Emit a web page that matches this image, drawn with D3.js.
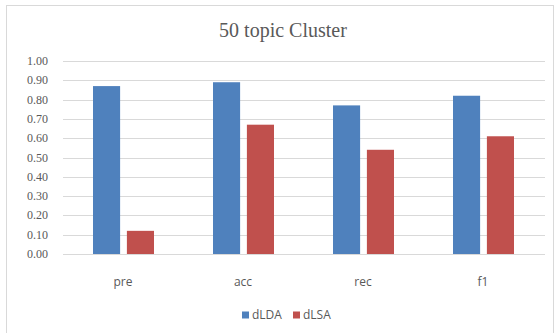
<!DOCTYPE html>
<html lang="en">
<head>
    <meta charset="UTF-8">
    <title>50 topic Cluster</title>
    <script src="https://d3js.org/d3.v7.min.js"></script>
    <style>
        body { margin: 0; background: #fff; }
        .tick-y { font-family: "Liberation Serif", "DejaVu Serif", serif; font-size: 12px; fill: #595959; }
        .tick-x { font-family: "Open Sans", "Liberation Sans", sans-serif; font-size: 12px; fill: #595959; }
        .legend { font-family: "Open Sans", "Liberation Sans", sans-serif; font-size: 12px; fill: #595959; }
    </style>
</head>
<body>
    <svg width="555" height="333"></svg>
    <script>
        const categories = ["pre", "acc", "rec", "f1"];
        const seriesNames = ["dLDA", "dLSA"];
        const dLDA = [0.87, 0.89, 0.77, 0.82];
        const dLSA = [0.12, 0.67, 0.54, 0.61];
        const yTicks = [0, 0.1, 0.2, 0.3, 0.4, 0.5, 0.6, 0.7, 0.8, 0.9, 1.0];
        const colors = ["#4F81BD", "#C0504D"];

        const svg = d3.select("svg");

        // chart border
        svg.append("rect")
            .attr("x", 6.5).attr("y", 5.5)
            .attr("width", 547).attr("height", 340)
            .attr("fill", "none")
            .attr("stroke", "#d9d9d9");

        svg.append("text")
            .attr("x", 283).attr("y", 37)
            .attr("text-anchor", "middle")
            .style("font-family", "'Liberation Serif', 'DejaVu Serif', serif")
            .style("font-size", "20px")
            .style("fill", "#595959")
            .text("50 topic Cluster");

        const plotLeft = 63, plotRight = 543, plotTop = 61, plotBottom = 254;

        const x = d3.scaleBand().domain(categories).range([plotLeft, plotRight]);
        const y = d3.scaleLinear().domain([0, 1]).range([plotBottom, plotTop]);
        const inner = d3.scaleBand().domain(seriesNames)
            .range([30, x.bandwidth() - 29]).paddingInner(0.2);

        svg.append("g")
            .selectAll("line")
            .data(yTicks)
            .join("line")
            .attr("x1", plotLeft).attr("x2", plotRight + 2)
            .attr("y1", d => Math.round(y(d)) + 0.5)
            .attr("y2", d => Math.round(y(d)) + 0.5)
            .attr("stroke", "#d9d9d9");

        svg.append("g")
            .selectAll("text")
            .data(yTicks)
            .join("text")
            .attr("class", "tick-y")
            .attr("x", 48)
            .attr("y", d => y(d) + 4)
            .attr("text-anchor", "end")
            .text(d => d.toFixed(2));

        const data = categories.map((c, i) => ({ cat: c, vals: [dLDA[i], dLSA[i]] }));

        const groups = svg.append("g")
            .selectAll("g")
            .data(data)
            .join("g")
            .attr("transform", d => `translate(${x(d.cat)},0)`);

        groups.selectAll("rect")
            .data(d => d.vals.map((v, j) => ({ name: seriesNames[j], v: v, j: j })))
            .join("rect")
            .attr("x", d => inner(d.name))
            .attr("y", d => y(d.v))
            .attr("width", inner.bandwidth())
            .attr("height", d => plotBottom - y(d.v))
            .attr("fill", d => colors[d.j]);

        svg.append("g")
            .selectAll("text")
            .data(categories)
            .join("text")
            .attr("class", "tick-x")
            .attr("x", d => x(d) + x.bandwidth() / 2)
            .attr("y", 286)
            .attr("text-anchor", "middle")
            .text(d => d);

        // legend
        const legend = svg.append("g").attr("transform", "translate(242,309)");
        const items = legend.selectAll("g")
            .data(seriesNames)
            .join("g")
            .attr("transform", (d, i) => `translate(${i * 51},0)`);
        items.append("rect")
            .attr("x", 0).attr("y", 2.5)
            .attr("width", 7).attr("height", 7)
            .attr("fill", (d, i) => colors[i]);
        items.append("text")
            .attr("class", "legend")
            .attr("x", 10).attr("y", 10)
            .text(d => d);
    </script>
</body>
</html>
